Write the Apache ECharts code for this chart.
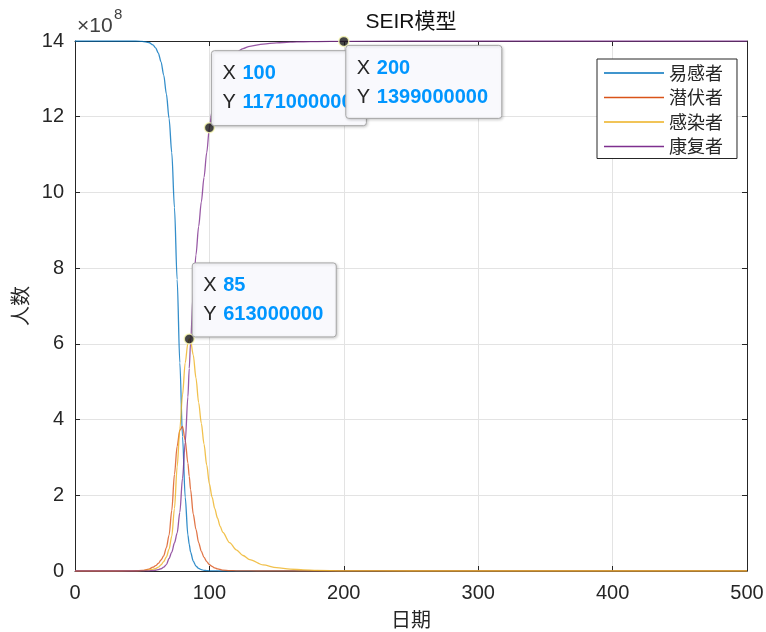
<!DOCTYPE html>
<html><head><meta charset="utf-8">
<script src="https://cdn.jsdelivr.net/npm/echarts@6/dist/echarts.min.js"></script>
<style>html,body{margin:0;padding:0;background:#fff}#c{width:766px;height:632px}</style>
</head><body><div id="c"></div>
<script>
// time (days)
const days = [0,10,20,30,40,45,50,55,58,60,62,64,66,68,70,72,74,76,78,80,82,84,85,86,88,90,92,94,96,98,100,102,104,106,108,110,115,120,125,130,140,150,160,170,180,200,250,300,400,500];
// values in units of 1e8 people
const susceptible = [14,14,14,14,14,14,13.99,13.96,13.9,13.82,13.68,13.45,13.1,12.6,11.95,11.05,9.6,7.7,5.5,3.55,1.95,0.95,0.7,0.5,0.26,0.13,0.07,0.035,0.018,0.01,0.005,0.003,0.002,0.001,0,0,0,0,0,0,0,0,0,0,0,0,0,0,0,0];
const exposed = [0,0,0,0,0.002,0.006,0.015,0.05,0.1,0.14,0.2,0.29,0.4,0.62,0.95,1.6,2.55,3.3,3.72,3.82,3.45,2.85,2.5,2.15,1.5,1.1,0.75,0.52,0.36,0.25,0.17,0.12,0.08,0.055,0.04,0.025,0.01,0.005,0.002,0.001,0,0,0,0,0,0,0,0,0,0];
const infected = [0,0,0,0,0.001,0.003,0.008,0.025,0.045,0.065,0.1,0.16,0.25,0.37,0.58,0.92,1.65,2.75,3.75,4.65,5.5,6.02,6.13,6.08,5.7,5.1,4.45,3.9,3.35,2.8,2.3,1.95,1.65,1.4,1.18,1.02,0.75,0.56,0.41,0.3,0.16,0.09,0.05,0.03,0.016,0.005,0,0,0,0];
const recovered = [0,0,0,0,0,0,0.002,0.005,0.01,0.02,0.035,0.06,0.1,0.17,0.33,0.5,0.74,1.0,1.55,2.45,3.4,4.6,5.35,6.05,7.35,8.35,9.1,9.75,10.4,11.05,11.71,12.15,12.5,12.8,13.03,13.2,13.5,13.7,13.8,13.86,13.92,13.95,13.97,13.98,13.985,13.99,14,14,14,14];
const seriesNames = ['易感者','潜伏者','感染者','康复者'];
const seriesColors = ['#0072BD','#D95319','#EDB120','#7E2F8E'];
const xTicks = [0,100,200,300,400,500];
const yTicks = [0,2,4,6,8,10,12,14];
// data tips: day, people
const tipDays = [85,100,200];
const tipPeople = [613000000,1171000000,1399000000];
const tipText = ['613000000','1171000000','1399000000'];

const chart = echarts.init(document.getElementById('c'), null, {renderer:'canvas'});
const dataSets = [susceptible, exposed, infected, recovered];
const axisColor = '#262626';
const numFont = '"Liberation Sans", Arial, sans-serif';
const cjkFont = '"Noto Sans CJK SC", sans-serif';
const mixFont = '"Liberation Sans", "Noto Sans CJK SC", sans-serif';

const lineSeries = seriesNames.map((n,i)=>({
  name:n, type:'line', xAxisIndex:0, yAxisIndex:0,
  data: days.map((d,k)=>[d, dataSets[i][k]]),
  showSymbol:false, symbol:'none', smooth:0.3, smoothMonotone:'x',
  lineStyle:{color:seriesColors[i], width:1.3, opacity:0.8}, itemStyle:{color:seriesColors[i]},
  z:2
}));
lineSeries.push({
  name:'tips', type:'scatter', xAxisIndex:0, yAxisIndex:0,
  data: tipDays.map((d,i)=>[d, tipPeople[i]/1e8]),
  symbolSize:10, itemStyle:{color:'#151515', borderColor:'#fdfdb8', borderWidth:1.5},
  z:20, silent:true
});

const option = {
  animation:false,
  backgroundColor:'#fff',
  grid:{left:75, right:19, top:41, bottom:61, containLabel:false, outerBoundsMode:'none'},
  legend:{
    data:seriesNames.map(n=>({name:n, icon:'rect'})), orient:'vertical', left:597, top:59,
    itemWidth:60, itemHeight:1.5, itemGap:6.5,
    padding:[5,14,3,7],
    borderColor:axisColor, borderWidth:1, backgroundColor:'#fff',
    textStyle:{fontSize:18, color:axisColor, fontFamily:cjkFont, lineHeight:18},
    selectedMode:false
  },
  xAxis:[{
    type:'value', min:0, max:500, interval:100, position:'bottom',
    axisLine:{show:true, onZero:false, lineStyle:{color:axisColor, width:1}},
    axisTick:{show:true, inside:true, length:5, lineStyle:{color:axisColor}},
    axisLabel:{fontSize:20, color:axisColor, margin:12, fontFamily:numFont,
      formatter:v=>xTicks.includes(v)?String(v):''},
    splitLine:{show:true, lineStyle:{color:'#e3e3e3', width:1}},
    name:'日期', nameLocation:'middle', nameGap:38,
    nameTextStyle:{fontSize:20, color:axisColor, fontFamily:cjkFont}
  },{
    type:'value', min:0, max:500, interval:100, position:'top',
    axisLine:{show:true, onZero:false, lineStyle:{color:axisColor, width:1}},
    axisTick:{show:true, inside:true, length:5, lineStyle:{color:axisColor}},
    axisLabel:{show:false}, splitLine:{show:false}
  }],
  yAxis:[{
    type:'value', min:0, max:14, interval:2, position:'left',
    axisLine:{show:true, onZero:false, lineStyle:{color:axisColor, width:1}},
    axisTick:{show:true, inside:true, length:5, lineStyle:{color:axisColor}},
    axisLabel:{fontSize:20, color:axisColor, margin:11, fontFamily:numFont,
      formatter:v=>yTicks.includes(v)?String(v):''},
    splitLine:{show:true, lineStyle:{color:'#e3e3e3', width:1}},
    name:'人数', nameLocation:'middle', nameGap:42, nameRotate:90,
    nameTextStyle:{fontSize:20, color:axisColor, fontFamily:cjkFont}
  },{
    type:'value', min:0, max:14, interval:2, position:'right',
    axisLine:{show:true, onZero:false, lineStyle:{color:axisColor, width:1}},
    axisTick:{show:true, inside:true, length:5, lineStyle:{color:axisColor}},
    axisLabel:{show:false}, splitLine:{show:false}
  }],
  series: lineSeries
};
chart.setOption(option);

// data-tip boxes, positioned from the data through the chart's scales
const boxSpec = [
  {dx:3, dy:-76, w:144, h:74},
  {dx:2, dy:-77, w:155, h:75},
  {dx:2, dy:4, w:156, h:73}
];
const richStyle = {
  k:{fontSize:20, fill:axisColor, fontFamily:numFont, width:20},
  v:{fontSize:20, fill:'#0096ff', fontWeight:'bold', fontFamily:numFont}
};
const graphics = [];
tipDays.forEach((d,i)=>{
  const p = chart.convertToPixel({xAxisIndex:0, yAxisIndex:0}, [d, tipPeople[i]/1e8]);
  const b = boxSpec[i];
  const x0 = p[0]+b.dx, y0 = p[1]+b.dy;
  graphics.push({
    type:'group', x:x0, y:y0, z:30+i*2,
    children:[
      {type:'rect', shape:{x:0,y:0,width:b.w,height:b.h,r:3}, z:30+i*2,
       style:{fill:'#f9f9fd', stroke:'#a6a6a6', lineWidth:1,
         shadowBlur:3, shadowColor:'rgba(0,0,0,0.18)', shadowOffsetX:1, shadowOffsetY:1}},
      {type:'text', x:11, y:23, z:31+i*2,
       style:{text:'{k|X}{v|'+d+'}', verticalAlign:'middle', rich:richStyle}},
      {type:'text', x:11, y:52, z:31+i*2,
       style:{text:'{k|Y}{v|'+tipText[i]+'}', verticalAlign:'middle', rich:richStyle}}
    ]
  });
});
// title and exponent label
graphics.push({type:'text', x:411, y:22, z:40,
  style:{text:'SEIR模型', font:'21px "Liberation Sans", "Noto Sans CJK SC", sans-serif', fill:'#111', align:'center', verticalAlign:'middle'}});
graphics.push({type:'text', x:77, y:37, z:40,
  style:{text:'×10', font:'21px "Liberation Sans", Arial, sans-serif', fill:'#404040', verticalAlign:'bottom'}});
graphics.push({type:'text', x:114, y:22, z:40,
  style:{text:'8', font:'15px "Liberation Sans", Arial, sans-serif', fill:'#404040', verticalAlign:'bottom'}});
chart.setOption({graphic:graphics});
</script>
</body></html>
